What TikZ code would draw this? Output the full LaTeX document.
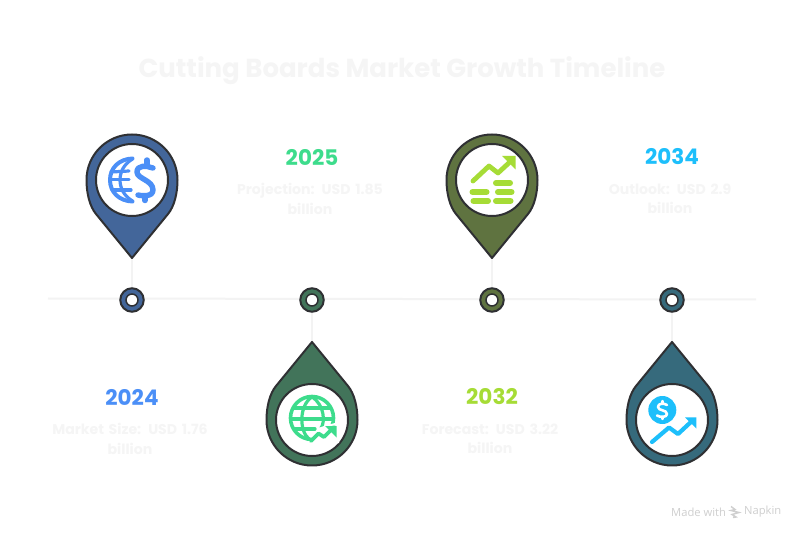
\documentclass[tikz,border=0pt]{standalone}
\usepackage{fontspec}
\setmainfont{Poppins}
\newfontfamily\markfont{Open Sans}
\definecolor{ink}{HTML}{2F3033}
\definecolor{faint}{HTML}{F5F5F5}
\definecolor{rail}{HTML}{F3F3F3}
\definecolor{markgray}{HTML}{CFCFCF}
\definecolor{pinA}{HTML}{43669A}
\definecolor{pinB}{HTML}{42745A}
\definecolor{pinC}{HTML}{5F7340}
\definecolor{pinD}{HTML}{366A7C}
\definecolor{iconA}{HTML}{4B8FF7}
\definecolor{iconB}{HTML}{3DDC8C}
\definecolor{iconC}{HTML}{A6DC36}
\definecolor{iconD}{HTML}{1DBFFB}
\tikzset{
  x=1pt,y=-1pt,
  railline/.style={draw=rail,line width=2pt},
  stem/.style={draw=rail,line width=2pt},
  pinbody/.style={draw=ink,line width=2pt,line join=round},
  pinface/.style={draw=ink,line width=2pt,fill=white},
  dotnode/.style={circle,draw=ink,line width=2pt,minimum size=23.5pt,inner sep=0pt},
  dothole/.style={circle,draw=ink,line width=1.5pt,fill=white,minimum size=12pt,inner sep=0pt},
  yearlabel/.style={font=\fontsize{21.5}{24}\selectfont\bfseries,anchor=center},
  desclabel/.style={font=\fontsize{14.1}{19.5}\selectfont\bfseries,text=faint,align=center,text width=175pt,anchor=center},
  iconline/.style={line width=#1,line cap=round,line join=round,fill=none}
}
\newcommand{\pinpath}[3]{% x, y of face centre, direction, colour from scope
  \begin{scope}[shift={(#1,#2)},yscale=#3]
    \path[pinbody,fill=pincolor] (-45.5,0) arc[start angle=180,end angle=360,radius=45.5]
      .. controls (45.5,14) and (42,26.7) .. (36,34) -- (0,78) -- (-36,34)
      .. controls (-42,26.7) and (-45.5,14) .. (-45.5,0) -- cycle;
  \end{scope}
}
\begin{document}
\begin{tikzpicture}
\useasboundingbox[fill=white] (0,0) rectangle (804,540);
% title
\node[font=\fontsize{26}{30}\selectfont\bfseries,text=faint] (title) at (402,71) {Cutting Boards Market Growth Timeline};
% rail
\coordinate (railL) at (48,298.5);
\coordinate (railR) at (756,299.5);
\draw[railline] (railL) -- (railR);
% stems
\coordinate (tipA) at (132,258); \coordinate (tipB) at (312,341);
\coordinate (tipC) at (492,258); \coordinate (tipD) at (672,341);
\node[dotnode,fill=pinA] (dotA) at (132,300) {};
\node[dotnode,fill=pinB] (dotB) at (312,300) {};
\node[dotnode,fill=pinC] (dotC) at (492,300) {};
\node[dotnode,fill=pinD] (dotD) at (672,300) {};
\draw[stem] (tipA) -- (dotA);
\draw[stem] (tipB) -- (dotB);
\draw[stem] (tipC) -- (dotC);
\draw[stem] (tipD) -- (dotD);
\node[dothole] (holeA) at (dotA) {};
\node[dothole] (holeB) at (dotB) {};
\node[dothole] (holeC) at (dotC) {};
\node[dothole] (holeD) at (dotD) {};
% pins
\colorlet{pincolor}{pinA}\pinpath{132}{180}{1}
\colorlet{pincolor}{pinB}\pinpath{312}{420}{-1}
\colorlet{pincolor}{pinC}\pinpath{492}{180}{1}
\colorlet{pincolor}{pinD}\pinpath{672}{420}{-1}
\node[circle,pinface,minimum size=72pt,inner sep=0pt] (faceA) at (132,180) {};
\node[circle,pinface,minimum size=72pt,inner sep=0pt] (faceB) at (312,420) {};
\node[circle,pinface,minimum size=72pt,inner sep=0pt] (faceC) at (492,180) {};
\node[circle,pinface,minimum size=72pt,inner sep=0pt] (faceD) at (672,420) {};
% icon A: half globe and dollar
\begin{scope}[shift={(132,180)},draw=iconA]
  \draw[iconline=4pt] (0.5,-21.5) .. controls (-13,-21) and (-22,-12) .. (-22,0) .. controls (-22,12) and (-13,21) .. (0.5,21.5);
  \draw[iconline=3.2pt] (0.5,-21) .. controls (-8,-16) and (-12,-8) .. (-12,0) .. controls (-12,8) and (-8,16) .. (0.5,21);
  \draw[iconline=3.2pt] (-21,-8) -- (-3,-9);
  \draw[iconline=3.2pt] (-22,-0.5) -- (-3,-0.5);
  \draw[iconline=3.2pt] (-20,10) -- (-1,10);
  \draw[iconline=5.4pt] (21,-12) .. controls (14,-14.5) and (5,-15) .. (5,-8) .. controls (5,-1) and (21,0) .. (21,10) .. controls (21,17) and (10,16) .. (6,15);
  \draw[iconline=5.4pt] (15,-20) -- (15,-14);
  \draw[iconline=5.4pt] (13,16) -- (13,20.5);
\end{scope}
% icon B: globe with trend arrow
\begin{scope}[shift={(312,420)},draw=iconB,fill=iconB]
  \draw[iconline=3.6pt] (0,-2) circle[radius=21.5];
  \draw[iconline=3.2pt] (0,-23) .. controls (-13,-15) and (-13,11) .. (-3,19);
  \draw[iconline=3.2pt] (0,-23) .. controls (13,-15) and (13,3) .. (9,8);
  \draw[iconline=3.2pt] (-18,-12) -- (18,-12);
  \draw[iconline=3.2pt] (-21,-1) -- (21,-1);
  \draw[iconline=3.2pt] (-18,9) -- (3,9);
  \fill[white] (-4,24) -- (6,8) -- (15,5) -- (27,2) -- (27,23) -- cycle;
  \draw[iconline=3.8pt] (-1,21) -- (6.5,13.5) -- (12,17) -- (22,7);
  \path[fill=iconB,draw=none] (13,6) -- (24.5,6) -- (24.5,17.5) -- cycle;
\end{scope}
% icon C: trend arrow and bars
\begin{scope}[shift={(492,180)},draw=iconC,fill=iconC]
  \draw[iconline=4.8pt] (-19,1) -- (-3,-14) -- (6,-7) -- (19,-19);
  \path[fill=iconC,draw=none] (10,-24) -- (23.5,-24) -- (23.5,-10.5) -- cycle;
  \draw[iconline=6pt] (4,3) -- (18,3);
  \draw[iconline=6pt] (-19.5,12) -- (-5.5,12);
  \draw[iconline=6pt] (6,12) -- (19.5,12);
  \draw[iconline=6pt] (-18.5,21) -- (-4,21);
  \draw[iconline=6pt] (4,21) -- (18.5,21);
\end{scope}
% icon D: coin and trend arrow
\begin{scope}[shift={(672,420)},draw=iconD,fill=iconD]
  \fill[iconD] (-9.7,-10) circle[radius=14];
  \draw[iconline=2.6pt,draw=white] (-5,-15) .. controls (-8,-17) and (-14,-17) .. (-14,-13) .. controls (-14,-9) and (-5,-10.5) .. (-5,-6) .. controls (-5,-2.5) and (-12,-2.5) .. (-15,-4.5);
  \draw[iconline=2.4pt,draw=white] (-9.7,-19) -- (-9.7,-17);
  \draw[iconline=2.4pt,draw=white] (-9.7,-3) -- (-9.7,-1);
  \draw[iconline=4.2pt] (-20,22) -- (-3,7.5) -- (6,14) -- (20,1);
  \path[fill=iconD,draw=none] (13,-2.7) -- (24.3,-2.7) -- (24.3,8.5) -- cycle;
\end{scope}
% labels
\node[yearlabel,text=iconA] (yearA) at (132,397) {2024};
\node[desclabel] (descA) at (130,439) {Market Size: USD 1.76\\billion};
\node[yearlabel,text=iconB] (yearB) at (312,157) {2025};
\node[desclabel] (descB) at (310,199) {Projection: USD 1.85\\billion};
\node[yearlabel,text=iconC] (yearC) at (492,397) {2032};
\node[desclabel] (descC) at (490,439) {Forecast: USD 3.22\\billion};
\node[yearlabel,text=iconD] (yearD) at (672,157) {2034};
\node[desclabel] (descD) at (670,199) {Outlook: USD 2.9\\billion};
% attribution
\node[font=\markfont\fontsize{11.2}{12}\selectfont,text=markgray,anchor=west,inner sep=0pt] (made) at (671,512) {Made with};
\node[font=\markfont\fontsize{11.2}{12}\selectfont,text=markgray,anchor=west,inner sep=0pt] (napkin) at (744,512) {Napkin};
\draw[markgray,line width=1.4pt] (731,506.5) -- (735,509.5) -- (731,510.5) -- (739,512.5) -- (732,514.5) -- (736,517) -- (733,517.5);
\end{tikzpicture}
\end{document}
